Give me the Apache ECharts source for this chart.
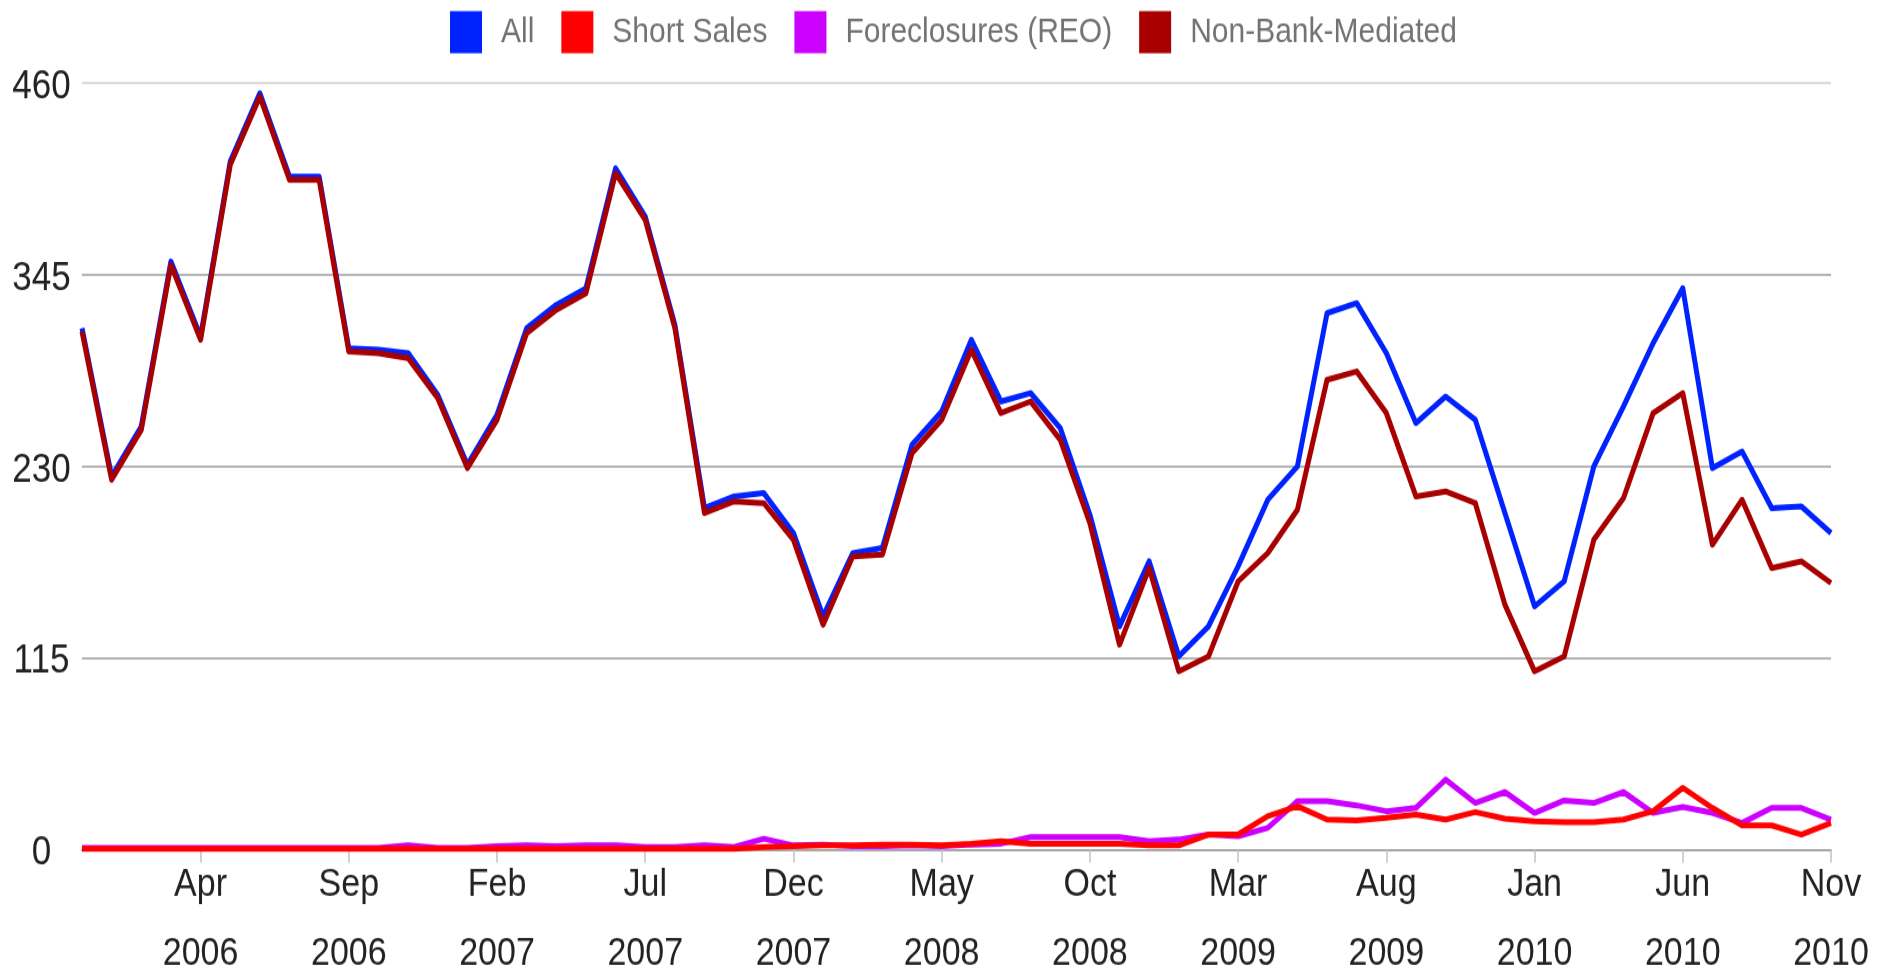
<!DOCTYPE html>
<html>
<head>
<meta charset="utf-8">
<title>Sales by type</title>
<script src="https://cdn.jsdelivr.net/npm/echarts@6/dist/echarts.min.js"></script>
<style>
  html, body { margin: 0; padding: 0; background: #fff; overflow: hidden; }
  #frame { width: 1889px; height: 973px; overflow: hidden; background: #fff; }
  /* the chart is laid out at 832px tall and stretched vertically to fill 973px */
  #chart { width: 1889px; height: 832px; transform: scaleY(1.1695); transform-origin: 0 0; }
</style>
</head>
<body>
<div id="frame"><div id="chart"></div></div>
<script>
const months = [
  'Dec 2005',
  'Jan 2006','Feb 2006','Mar 2006','Apr 2006','May 2006','Jun 2006','Jul 2006','Aug 2006','Sep 2006','Oct 2006','Nov 2006','Dec 2006',
  'Jan 2007','Feb 2007','Mar 2007','Apr 2007','May 2007','Jun 2007','Jul 2007','Aug 2007','Sep 2007','Oct 2007','Nov 2007','Dec 2007',
  'Jan 2008','Feb 2008','Mar 2008','Apr 2008','May 2008','Jun 2008','Jul 2008','Aug 2008','Sep 2008','Oct 2008','Nov 2008','Dec 2008',
  'Jan 2009','Feb 2009','Mar 2009','Apr 2009','May 2009','Jun 2009','Jul 2009','Aug 2009','Sep 2009','Oct 2009','Nov 2009','Dec 2009',
  'Jan 2010','Feb 2010','Mar 2010','Apr 2010','May 2010','Jun 2010','Jul 2010','Aug 2010','Sep 2010','Oct 2010','Nov 2010'
];

const allSales = [
  313,224,254,353,308,413,454,404,404,301,
  300,298,273,231,261,313,327,337,409,380,
  315,205,212,214,190,140,178,181,243,263,
  306,269,274,253,201,134,173,116,134,170,
  210,230,322,328,298,256,272,258,202,146,
  161,230,266,304,337,229,239,205,206,190
];

const shortSales = [
  0.5,0.5,0.5,0.5,0.5,0.5,0.5,0.5,0.5,0.5,
  0.5,0.5,0.5,0.5,0.5,0.5,0.5,0.5,0.5,0.5,
  0.5,0.5,0.5,1.5,2,2.5,2.5,3,3,2.5,
  3.5,5,3.5,3.5,3.5,3.5,2.5,2.5,9,9,
  20,26,18,17.5,19,21,18,22.5,18.5,17,
  16.5,16.5,18,23,37,25,14.5,14.5,9,16
];

const foreclosures = [
  1,1,1,1,1,1,1,1,1,1,
  1,2.5,1,1,2,2.5,2,2.5,2.5,1.5,
  1.5,2.5,1.5,6.5,2.5,3,2,2,2.5,2,
  3,3.5,7.5,7.5,7.5,7.5,5,6,9,8,
  13,29,29,26.5,23,25,42,28,34.5,22,
  29.5,28,34.5,22,25.5,22,16,25,25,18
];

const nonBank = [
  311,222,252,351,306,411,452,402,402,299,
  298,295,271,229,258,310,324,334,406,378,
  313,202,209,208,186,135,176,177,238,258,
  300,262,269,246,196,123,169,107,116,161,
  178,204,282,287,262,212,215,208,147,107,
  116,186,211,262,274,183,210,169,173,160
];

const yTicks = { min: 0, max: 460, step: 115 };

const seriesNames = ['All', 'Short Sales', 'Foreclosures (REO)', 'Non-Bank-Mediated'];
const seriesColors = {
  'All': '#0022ff',
  'Short Sales': '#ff0000',
  'Foreclosures (REO)': '#cc00ff',
  'Non-Bank-Mediated': '#a80000'
};

// month labels every fifth month, starting from Apr 2006
const everyFifth = (idx) => idx >= 4 && (idx - 4) % 5 === 0;

function line(name, values) {
  return {
    name: name,
    type: 'line',
    data: values,
    showSymbol: false,
    symbol: 'none',
    color: seriesColors[name],
    lineStyle: { color: seriesColors[name], width: 5, join: 'round' },
    emphasis: { disabled: true }
  };
}

const chart = echarts.init(document.getElementById('chart'), null, { renderer: 'canvas' });

chart.setOption({
  animation: false,
  backgroundColor: '#ffffff',
  textStyle: { fontFamily: '"Liberation Sans", Arial, sans-serif' },
  legend: {
    data: seriesNames,
    left: 450,
    top: 9.4,
    padding: 0,
    icon: 'rect',
    itemWidth: 32,
    itemHeight: 36,
    itemGap: 27,
    textStyle: { fontSize: 30, lineHeight: 26, color: '#737373', padding: [0, 0, 9, 14] }
  },
  grid: { left: 82, right: 58, top: 71.2, bottom: 105.6, containLabel: false, outerBoundsMode: 'none' },
  xAxis: {
    type: 'category',
    data: months,
    boundaryGap: false,
    axisLine: { lineStyle: { color: '#a8a8a8', width: 2 } },
    axisTick: { interval: everyFifth, length: 11, lineStyle: { color: '#c4c4c4', width: 1.5 } },
    axisLabel: {
      interval: everyFifth,
      margin: 1,
      fontSize: 34,
      lineHeight: 58.8,
      color: '#222222',
      formatter: (v) => v.replace(' ', '\n')
    },
    splitLine: { show: false }
  },
  yAxis: {
    type: 'value',
    min: yTicks.min,
    max: yTicks.max,
    interval: yTicks.step,
    axisLine: { show: false },
    axisTick: { show: false },
    axisLabel: { align: 'center', verticalAlign: 'top', lineHeight: 6.4, margin: 40.5, fontSize: 35, color: '#222222' },
    splitLine: { lineStyle: { color: ['#b4b4b4', '#b4b4b4', '#b4b4b4', '#b4b4b4', '#dcdcdc'], width: 2 } }
  },
  series: [
    line('All', allSales),
    line('Foreclosures (REO)', foreclosures),
    line('Short Sales', shortSales),
    line('Non-Bank-Mediated', nonBank)
  ]
});
</script>
</body>
</html>
